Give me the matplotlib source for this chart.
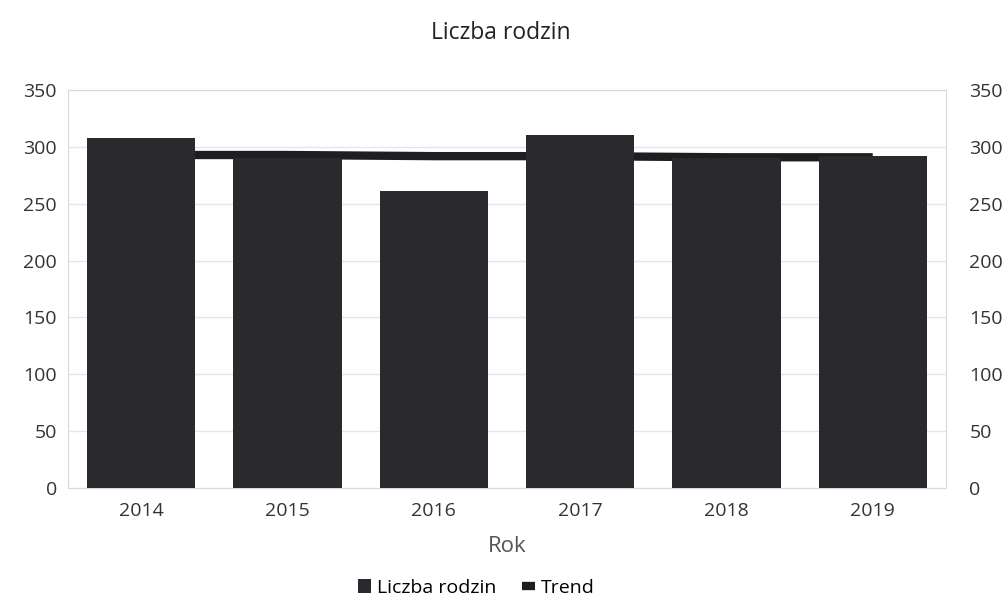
import matplotlib
matplotlib.use("Agg")
import matplotlib.pyplot as plt
import numpy as np

years = ["2014", "2015", "2016", "2017", "2018", "2019"]
families = [308, 290, 261, 311, 290, 292]
trend = [293, 293, 292, 292, 291, 291]
yticks = [0, 50, 100, 150, 200, 250, 300, 350]

plt.rcParams['font.family'] = ['Open Sans', 'DejaVu Sans']

fig = plt.figure(figsize=(10.02, 6.02), dpi=100)
ax = fig.add_axes([0.068, 0.19, 0.876, 0.66])
x = np.arange(len(years))

line, = ax.plot(x, trend, color='#1e1e22', linewidth=6, zorder=2, solid_capstyle='butt', label='Trend')
bars = ax.bar(x, families, width=0.74, color='#2a2a2e', zorder=3, label='Liczba rodzin')

ax.set_xlim(-0.5, 5.5)
ax.set_ylim(0, 350)
ax.set_yticks(yticks)
ax.set_xticks(x)
ax.set_xticklabels(years)
ax.grid(axis='y', color='#e6e6e6', linewidth=1, zorder=0)
for s in ax.spines.values():
    s.set_color('#d8d8d8')
ax.tick_params(length=0, labelsize=14, colors='#333333', pad=8)
ax.tick_params(axis='x', pad=10)

ax2 = ax.twinx()
ax2.set_ylim(0, 350)
ax2.set_yticks(yticks)
ax2.tick_params(length=0, labelsize=14, colors='#333333', pad=17)
for s in ax2.spines.values():
    s.set_visible(False)

ax.set_xlabel('Rok', fontsize=16, color='#555555', labelpad=12)
fig.suptitle('Liczba rodzin', fontsize=16.5, color='#222222', y=0.965)

ax.legend([bars, line], ['Liczba rodzin', 'Trend'], loc='upper center',
          bbox_to_anchor=(0.465, -0.185), ncol=2, frameon=False,
          fontsize=14, handlelength=0.7, handletextpad=0.3, columnspacing=1.3)

fig.savefig('out.png', dpi=100)
